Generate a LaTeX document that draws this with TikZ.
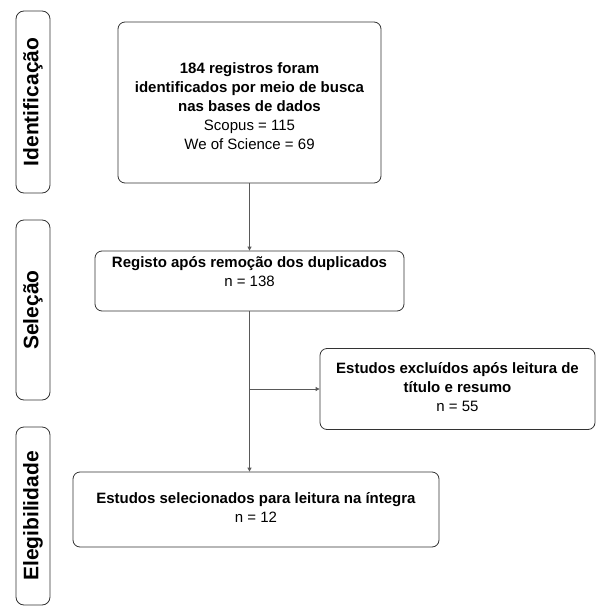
\documentclass[tikz,border=0pt]{standalone}
\usepackage{fontspec}
\setmainfont{Liberation Sans}
\usetikzlibrary{arrows.meta}
\begin{document}
\begin{tikzpicture}[x=1pt,y=-1pt,
  box/.style={draw=black!80, rounded corners=7pt, line width=0.8pt, inner sep=0pt},
  txt/.style={align=center, font=\fontsize{15}{19}\selectfont, inner sep=0pt},
  side/.style={draw=black!80, rounded corners=8pt, line width=0.8pt, rotate=90,
    font=\fontsize{21}{24}\selectfont\bfseries, inner sep=0pt, minimum height=34pt},
  conn/.style={draw=black!65, line width=0.8pt},
  arr/.style={conn, -{Triangle[length=4pt,width=4pt]}}]
\useasboundingbox (0,0) rectangle (596,607);
% phase labels
\node[side, minimum width=182pt] (s1) at (33,102) {Identificação};
\node[side, minimum width=180pt] (s2) at (33,310) {Seleção};
\node[side, minimum width=178pt] (s3) at (33,516) {Elegibilidade};
% boxes
\node[box, minimum width=263pt, minimum height=161pt] (b1) at (249.5,102.5) {};
\node[box, minimum width=309pt, minimum height=60pt] (b2) at (249.5,281) {};
\node[box, minimum width=275pt, minimum height=81pt] (b3) at (457.5,389) {};
\node[box, minimum width=366pt, minimum height=75pt] (b4) at (256,509.5) {};
% texts
\node[txt] (t1) at (249.5,106) {\textbf{184 registros foram}\\\textbf{identificados por meio de busca}\\\textbf{nas bases de dados}\\Scopus = 115\\We of Science = 69};
\node[txt] (t2) at (249.5,271.5) {\textbf{Registo após remoção dos duplicados}\\n = 138};
\node[txt] (t3) at (457.5,387) {\textbf{Estudos excluídos após leitura de}\\\textbf{título e resumo}\\n = 55};
\node[txt] (t4) at (256,507.5) {\textbf{Estudos selecionados para leitura na íntegra}\\n = 12};
% connectors
\coordinate (br) at (250,389);
\draw[arr] (b1.south) -- (b2.north);
\draw[arr] (b2.south) -- (b2.south |- b4.north);
\draw[arr] (br) -- (br -| b3.west);
\end{tikzpicture}
\end{document}
